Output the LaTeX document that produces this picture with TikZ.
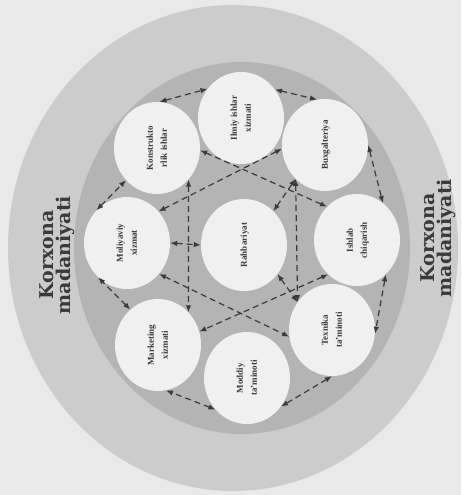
\documentclass[tikz,border=0pt]{standalone}
\usepackage{graphicx}
\usepackage{fontspec}
\setmainfont{Liberation Serif}
\newfontfamily\slabfont{DejaVu Serif}
\usetikzlibrary{shapes.geometric,arrows.meta}

\definecolor{paper}{HTML}{E9E9E9}
\definecolor{culture}{HTML}{CCCCCC}
\definecolor{field}{HTML}{B4B4B4}
\definecolor{unitfill}{HTML}{F0F0F0}
\definecolor{ink}{HTML}{3A3A3A}

\newcommand{\vlabel}[1]{\rotatebox{90}{\begin{tabular}{@{}c@{}}#1\end{tabular}}}

\begin{document}
\begin{tikzpicture}[
  x=1pt, y=-1pt,
  unit/.style={
    ellipse, fill=unitfill,
    minimum width=86pt, minimum height=92pt,
    inner sep=0pt,
    font=\bfseries\fontsize{9}{14}\selectfont, text=ink
  },
  link/.style={
    dash pattern=on 6pt off 4pt, line width=1.2pt, draw=ink,
    {Latex[length=7pt,width=5.5pt]}-{Latex[length=7pt,width=5.5pt]}
  },
  culturetext/.style={
    rotate=90, align=center, text=ink,
    font=\slabfont\bfseries\fontsize{19}{17}\selectfont
  }
]
\useasboundingbox (0,0) rectangle (461,495);

% --- Background ---
\fill[paper] (0,0) rectangle (461,495);
\fill[culture] (233,248) ellipse [x radius=225, y radius=243];
\fill[field] (242,248) ellipse [x radius=168, y radius=186];

% --- Korxona madaniyati ---
\node[culturetext] (cultL) at (57,255) {Korxona\\madaniyati};
\node[culturetext] (cultR) at (438,238) {Korxona\\madaniyati};

% --- Units ---
\node[unit] (rah) at (244,245) {\vlabel{Rahbariyat}};
\foreach \nm/\xx/\yy/\lbl in {
  ilm/241/118/{Ilmiy ishlar\\xizmati},
  bux/325/145/{Buxgalteriya},
  isc/357/240/{Ishlab\\chiqarish},
  tex/332/330/{Texnika\\ta'minoti},
  mod/247/378/{Moddiy\\ta'minoti},
  mar/158/345/{Marketing\\xizmati},
  mol/127/243/{Moliyaviy\\xizmat},
  kon/157/148/{Konstrukto\\rlik ishlar}%
}
  \node[unit] (\nm) at (\xx,\yy) {\vlabel{\lbl}};

% --- Ring links ---
\draw[link] (ilm.40) -- (bux.100);
\draw[link] (bux.0) -- (isc.55);
\draw[link] (isc.-50) -- (tex.-5);
\draw[link] (tex.-90) -- (mod.-40);
\draw[link] (mod.-135) -- (mar.-80);
\draw[link] (mar.128) -- (mol.-130);
\draw[link] (mol.133) -- (kon.-134);
\draw[link] (kon.87) -- (ilm.139);

% --- Cross links ---
\draw[link] (kon.-3) -- (isc.132);
\draw[link] (bux.185) -- (mol.45);
\draw[link] (mol.-44) -- (tex.189);
\draw[link] (isc.230) -- (mar.18);
\draw[link] (kon.-45) -- (mar.47);
\draw[link] (bux.229) -- (tex.141);

% --- Links to Rahbariyat ---
\draw[link] (mol.0) -- (rah.180);
\draw[link] (rah.49) -- (bux.229);
\draw[link] (rah.-41) -- (tex.141);

\end{tikzpicture}
\end{document}
